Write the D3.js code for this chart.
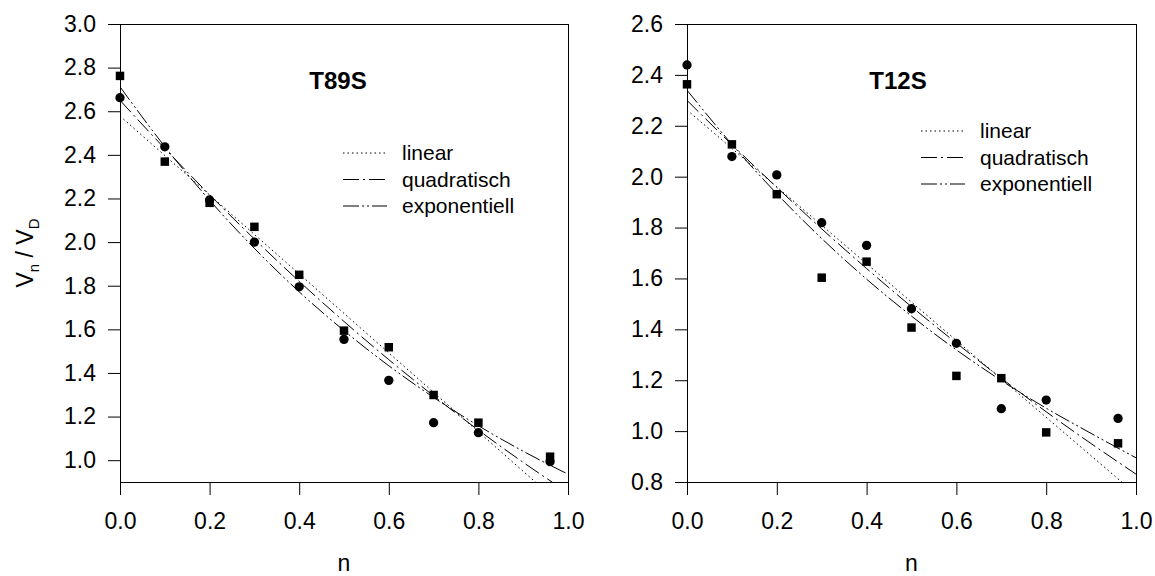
<!DOCTYPE html>
<html>
<head>
<meta charset="utf-8">
<script src="https://cdn.jsdelivr.net/npm/d3@7"></script>
<style>
    body { margin: 0; background: #fff; }
    svg { display: block; font-family: "Liberation Sans", Arial, sans-serif; }
    .axis text { font-size: 23px; fill: #000; }
    .axis line { stroke: #000; }
</style>
</head>
<body>
<div id="chart"></div>
<script>
// measured n values
const nValues = [0, 0.1, 0.2, 0.3, 0.4, 0.5, 0.6, 0.7, 0.8, 0.96];
// fitted curves read at these n
const fitN = [0, 0.1, 0.2, 0.3, 0.4, 0.5, 0.6, 0.7, 0.8, 0.9, 1.0];

// T89S
const t89sSquares = [2.762, 2.369, 2.180, 2.070, 1.850, 1.594, 1.518, 1.299, 1.172, 1.016];
const t89sCircles = [2.662, 2.437, 2.193, 2.000, 1.795, 1.554, 1.366, 1.172, 1.126, 0.993];
const t89sLinear = [2.578, 2.397, 2.216, 2.035, 1.854, 1.673, 1.492, 1.311, 1.130, 0.949, 0.768];
const t89sQuadratic = [2.650, 2.429, 2.217, 2.014, 1.820, 1.636, 1.461, 1.295, 1.138, 0.990, 0.851];
const t89sExponential = [2.712, 2.438, 2.192, 1.971, 1.772, 1.594, 1.433, 1.288, 1.158, 1.041, 0.936];

// T12S
const t12sSquares = [2.363, 2.127, 1.931, 1.603, 1.666, 1.407, 1.217, 1.208, 0.995, 0.952];
const t12sCircles = [2.439, 2.079, 2.007, 1.819, 1.730, 1.481, 1.345, 1.088, 1.122, 1.050];
const t12sLinear = [2.262, 2.111, 1.960, 1.809, 1.658, 1.507, 1.356, 1.205, 1.054, 0.903, 0.752];
const t12sQuadratic = [2.300, 2.126, 1.958, 1.795, 1.639, 1.489, 1.346, 1.208, 1.076, 0.951, 0.831];
const t12sExponential = [2.340, 2.127, 1.933, 1.757, 1.597, 1.452, 1.319, 1.199, 1.090, 0.991, 0.895];

const xTicks = [0, 0.2, 0.4, 0.6, 0.8, 1.0];
const t89sYTicks = [1.0, 1.2, 1.4, 1.6, 1.8, 2.0, 2.2, 2.4, 2.6, 2.8, 3.0];
const t12sYTicks = [0.8, 1.0, 1.2, 1.4, 1.6, 1.8, 2.0, 2.2, 2.4, 2.6];
const legendLabels = ["linear", "quadratisch", "exponentiell"];

const dashes = ["1.5,3", "16,4,2,4", "16,3,2,3,2,3"];

const width = 1155;
const height = 576;

let svg = d3.select("#chart").append("svg")
    .attr("width", width)
    .attr("height", height);

svg.append("rect")
    .attr("width", width)
    .attr("height", height)
    .attr("fill", "#fff");

function drawPanel(p) {
    let xSc = d3.scaleLinear().domain([0, 1]).range([p.left, p.right]);
    let ySc = d3.scaleLinear().domain(p.yDomain).range([p.bottom, p.top]);

    let g = svg.append("g");

    let clipId = "clip-" + p.id;
    svg.append("clipPath")
        .attr("id", clipId)
        .append("rect")
        .attr("x", p.left)
        .attr("y", p.top)
        .attr("width", p.right - p.left)
        .attr("height", p.bottom - p.top);

    // y axis
    g.append("g")
        .attr("class", "axis")
        .attr("transform", "translate(" + p.left + ",0)")
        .call(d3.axisLeft(ySc).tickValues(p.yTicks).tickFormat(d3.format(".1f"))
            .tickSize(12).tickPadding(12))
        .call(function (a) { a.select(".domain").remove(); });

    // x axis
    g.append("g")
        .attr("class", "axis")
        .attr("transform", "translate(0," + p.bottom + ")")
        .call(d3.axisBottom(xSc).tickValues(xTicks).tickFormat(d3.format(".1f"))
            .tickSize(13).tickPadding(18))
        .call(function (a) { a.select(".domain").remove(); });

    // frame
    g.append("rect")
        .attr("x", p.left)
        .attr("y", p.top)
        .attr("width", p.right - p.left)
        .attr("height", p.bottom - p.top)
        .attr("fill", "none")
        .attr("stroke", "#000")
        .attr("stroke-width", 1)
        .attr("shape-rendering", "crispEdges");

    // fit curves
    let line = d3.line()
        .x(function (d, i) { return xSc(fitN[i]); })
        .y(function (d) { return ySc(d); })
        .curve(d3.curveMonotoneX);

    let curves = g.append("g").attr("clip-path", "url(#" + clipId + ")");
    p.fits.forEach(function (vals, k) {
        curves.append("path")
            .attr("d", line(vals))
            .attr("fill", "none")
            .attr("stroke", "#000")
            .attr("stroke-width", 1)
            .attr("stroke-dasharray", dashes[k]);
    });

    // points
    let sq = d3.symbol().type(d3.symbolSquare).size(72);
    let ci = d3.symbol().type(d3.symbolCircle).size(68);
    g.append("g").selectAll("path")
        .data(p.circles)
        .join("path")
        .attr("transform", function (d, i) { return "translate(" + xSc(nValues[i]) + "," + ySc(d) + ")"; })
        .attr("d", ci)
        .attr("fill", "#000");
    g.append("g").selectAll("path")
        .data(p.squares)
        .join("path")
        .attr("transform", function (d, i) { return "translate(" + xSc(nValues[i]) + "," + ySc(d) + ")"; })
        .attr("d", sq)
        .attr("fill", "#000");

    // title
    g.append("text")
        .attr("x", p.titleX)
        .attr("y", 89)
        .attr("text-anchor", "middle")
        .style("font-size", "24px")
        .style("font-weight", "bold")
        .text(p.title);

    // legend
    legendLabels.forEach(function (lab, k) {
        let y = p.legendY + k * 26.5;
        g.append("line")
            .attr("x1", p.legendX)
            .attr("x2", p.legendX + 44)
            .attr("y1", y)
            .attr("y2", y)
            .attr("stroke", "#000")
            .attr("stroke-width", 1)
            .attr("stroke-dasharray", dashes[k]);
        g.append("text")
            .attr("x", p.legendX + 59)
            .attr("y", y)
            .attr("dy", "0.35em")
            .style("font-size", "21px")
            .text(lab);
    });

    // x label
    g.append("text")
        .attr("x", (p.left + p.right) / 2)
        .attr("y", 571)
        .attr("text-anchor", "middle")
        .style("font-size", "23px")
        .text("n");
}

drawPanel({
    id: "t89s", title: "T89S", titleX: 338,
    left: 120, right: 568, top: 24, bottom: 482,
    yDomain: [0.9, 3.0], yTicks: t89sYTicks,
    squares: t89sSquares, circles: t89sCircles,
    fits: [t89sLinear, t89sQuadratic, t89sExponential],
    legendX: 343, legendY: 153
});

drawPanel({
    id: "t12s", title: "T12S", titleX: 898,
    left: 687, right: 1136, top: 24, bottom: 482,
    yDomain: [0.8, 2.6], yTicks: t12sYTicks,
    squares: t12sSquares, circles: t12sCircles,
    fits: [t12sLinear, t12sQuadratic, t12sExponential],
    legendX: 921, legendY: 131
});

// y label with subscripts
let yLab = svg.append("text")
    .attr("transform", "translate(33,253) rotate(-90)")
    .attr("text-anchor", "middle")
    .style("font-size", "23px");
yLab.append("tspan").text("V");
yLab.append("tspan").attr("dy", 6).style("font-size", "15px").text("n");
yLab.append("tspan").attr("dy", -6).text(" / V");
yLab.append("tspan").attr("dy", 6).style("font-size", "15px").text("D");
</script>
</body>
</html>
